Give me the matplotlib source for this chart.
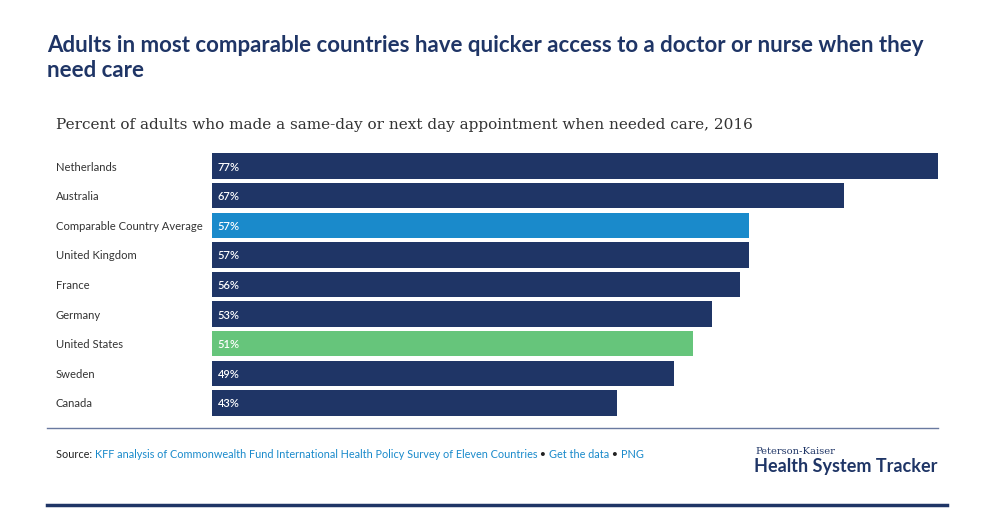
import matplotlib
matplotlib.use("Agg")
import matplotlib.pyplot as plt
from matplotlib.lines import Line2D

countries = ["Netherlands", "Australia", "Comparable Country Average", "United Kingdom",
             "France", "Germany", "United States", "Sweden", "Canada"]
values = [77, 67, 57, 57, 56, 53, 51, 49, 43]
NAVY = "#1f3566"
BLUE = "#1a8acb"
GREEN = "#66c57b"
bar_colors = [NAVY, NAVY, BLUE, NAVY, NAVY, NAVY, GREEN, NAVY, NAVY]

W, H = 998, 510
fig = plt.figure(figsize=(W / 100, H / 100), dpi=100)
fig.patch.set_facecolor("white")

def fx(x):
    return x / W

def fy(y):
    return 1 - y / H

ax = fig.add_axes([fx(212), fy(418.8), fx(938) - fx(212), (418.8 - 152.2) / H])
ypos = list(range(len(countries)))
ax.barh(ypos, values, height=0.86, color=bar_colors, edgecolor="none")
ax.set_xlim(0, 77)
ax.set_ylim(len(countries) - 0.5, -0.5)
ax.axis("off")
for y, v in zip(ypos, values):
    ax.text(0.6, y, f"{v}%", color="white", fontsize=8, family="Lato",
            va="center", ha="left", fontweight="semibold")
for y, c in zip(ypos, countries):
    ax.annotate(c, xy=(0, y), xycoords="data", xytext=(fx(56), 0),
                textcoords=("figure fraction", "offset points"),
                ha="left", va="center", fontsize=8.1, family="Lato", color="#333333")

fig.text(fx(47), fy(45), "Adults in most comparable countries have quicker access to a doctor or nurse when they",
         fontsize=16, fontweight="bold", family="Lato", color=NAVY, va="center", ha="left")
fig.text(fx(47), fy(71), "need care",
         fontsize=16, fontweight="bold", family="Lato", color=NAVY, va="center", ha="left")
fig.text(fx(56), fy(125), "Percent of adults who made a same-day or next day appointment when needed care, 2016",
         fontsize=11.0, family="DejaVu Serif", color="#333333", va="center", ha="left")

fig.add_artist(Line2D([fx(47), fx(938)], [fy(429), fy(429)], color="#6a7aa0", lw=1.0))
fig.add_artist(Line2D([fx(47), fx(947)], [fy(506), fy(506)], color=NAVY, lw=2.5))

# source line with mixed colours
parts = [("Source: ", "#222222"),
         ("KFF analysis of Commonwealth Fund International Health Policy Survey of Eleven Countries", BLUE),
         (" \u2022 ", "#222222"), ("Get the data", BLUE), (" \u2022 ", "#222222"), ("PNG", BLUE)]
fig.canvas.draw()
renderer = fig.canvas.get_renderer()
x = fx(56)
for txt, col in parts:
    t = fig.text(x, fy(455), txt, fontsize=7.85, family="Lato", color=col, va="center", ha="left")
    bb = t.get_window_extent(renderer=renderer)
    x += bb.width / W

fig.text(fx(755), fy(452), "Peterson-Kaiser", fontsize=7.1, family="DejaVu Serif",
         color=NAVY, va="center", ha="left")
fig.text(fx(754), fy(467), "Health System Tracker", fontsize=13, fontweight="bold",
         family="Lato", color=NAVY, va="center", ha="left")

fig.savefig("out.png", dpi=100, facecolor="white")
